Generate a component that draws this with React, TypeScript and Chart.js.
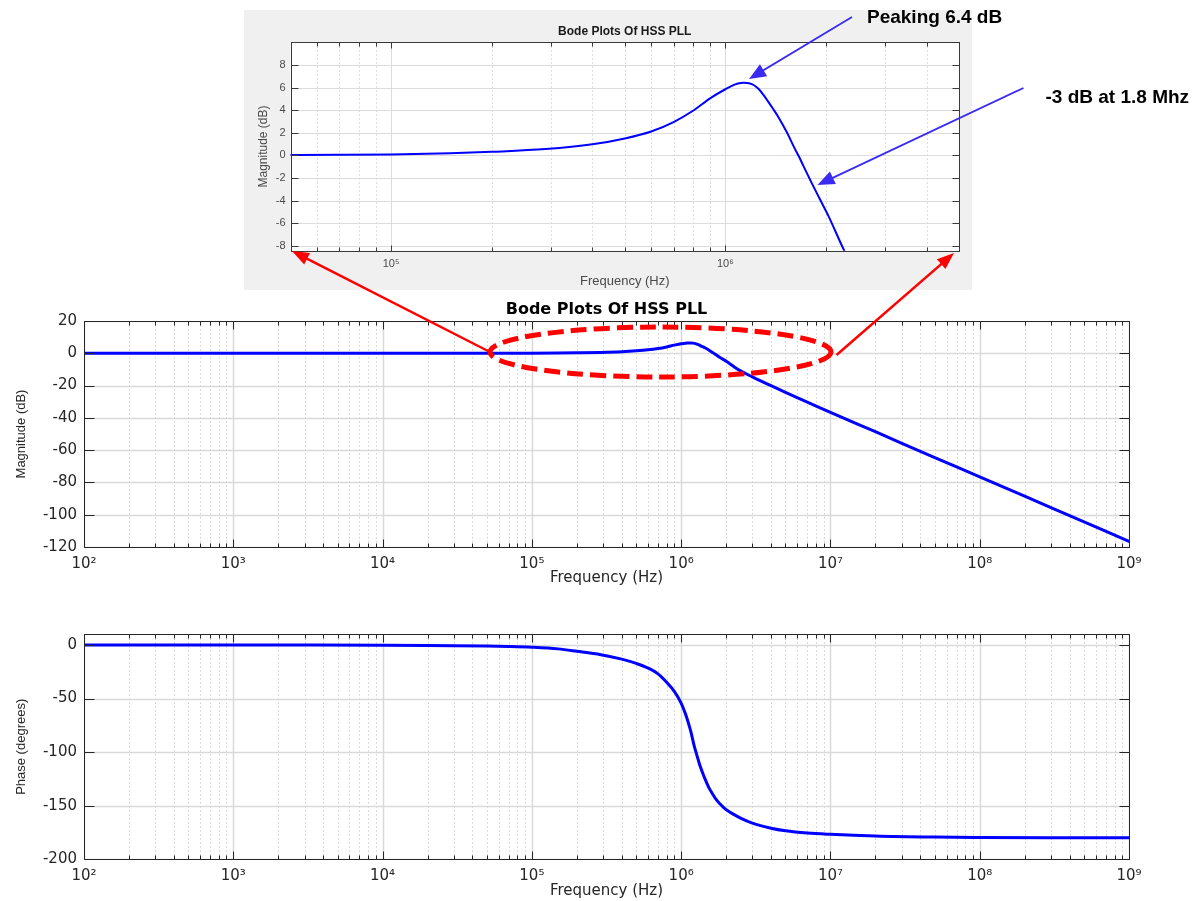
import React, { useEffect, useRef } from 'react';
import { Chart, registerables } from 'chart.js';

Chart.register(...registerables);

// ---------------- data ----------------
const FREQ_HZ = [
  1e2, 3e2, 1e3, 3e3, 1e4, 2e4, 3e4, 5e4, 7e4, 1e5,
  1.5e5, 2e5, 2.9e5, 4e5, 5e5, 6e5, 7e5, 8e5, 9e5, 1e6,
  1.07e6, 1.1e6, 1.13e6, 1.165e6, 1.2e6, 1.23e6, 1.26e6, 1.3e6, 1.34e6, 1.39e6,
  1.44e6, 1.53e6, 1.61e6, 1.66e6, 1.71e6, 1.81e6, 1.92e6, 2.03e6, 2.25e6, 2.5e6,
  3e6, 4e6, 5e6, 7e6, 1e7, 2e7, 5e7, 1e8, 3e8, 1e9,
];

const MAG_DB = [
  0.0, 0.0, 0.0, 0.0, 0.0, 0.01, 0.01, 0.03, 0.05, 0.09,
  0.19, 0.32, 0.56, 0.98, 1.5, 2.12, 2.95, 3.95, 5.05, 5.85,
  6.28, 6.38, 6.42, 6.4, 6.3, 6.12, 5.85, 5.35, 4.8, 4.1,
  3.4, 2.0, 0.65, -0.1, -0.9, -2.4, -3.9, -5.3, -8.2, -10.9,
  -14.6, -20.1, -24.2, -30.2, -36.6, -48.6, -64.6, -76.5, -95.6, -116.5,
];

const PHASE_DEG = [
  0.0, -0.01, -0.03, -0.08, -0.2, -0.4, -0.6, -1.0, -1.4, -2.1,
  -3.6, -5.8, -9.0, -13.2, -17.2, -21.5, -26.9, -34.8, -43.2, -54.2,
  -64.5, -69.5, -75.0, -81.5, -89.3, -95.5, -100.5, -107.0, -113.0, -119.0,
  -124.5, -132.8, -138.2, -141.1, -143.9, -148.0, -151.5, -154.3, -158.1, -161.6,
  -166.3, -171.0, -173.4, -175.5, -176.7, -178.3, -179.3, -179.65, -179.9, -180.0,
];

const MAIN_X_RANGE = [1e2, 1e9];
const INSET_X_RANGE = [5e4, 5e6];
const MAG_Y_RANGE = [-120, 20];
const PHASE_Y_RANGE = [-200, 10];
const INSET_Y_RANGE = [-8.42, 10];
const MAG_Y_TICKS = [-120, -100, -80, -60, -40, -20, 0, 20];
const PHASE_Y_TICKS = [-200, -150, -100, -50, 0];
const INSET_Y_TICKS = [-8, -6, -4, -2, 0, 2, 4, 6, 8];

const TITLE_TEXT = 'Bode Plots Of HSS PLL';
const X_LABEL = 'Frequency (Hz)';
const MAG_LABEL = 'Magnitude (dB)';
const PHASE_LABEL = 'Phase (degrees)';
const PEAK_NOTE = 'Peaking 6.4 dB';
const BW_NOTE = '-3 dB at 1.8 Mhz';

// ---------------- helpers ----------------
const SUP: Record<string, string> = {
  '0': '\u2070', '1': '\u00B9', '2': '\u00B2', '3': '\u00B3', '4': '\u2074',
  '5': '\u2075', '6': '\u2076', '7': '\u2077', '8': '\u2078', '9': '\u2079', '-': '\u207B',
};

function decadeLabel(v: number): string {
  const e = Math.round(Math.log10(v));
  if (Math.abs(v - Math.pow(10, e)) > 1e-6 * v) return '';
  return '10' + String(e).split('').map((c) => SUP[c]).join('');
}

function decades(min: number, max: number): number[] {
  const out: number[] = [];
  for (let e = Math.floor(Math.log10(min)); e <= Math.ceil(Math.log10(max)); e++) {
    const v = Math.pow(10, e);
    if (v >= min * 0.9999 && v <= max * 1.0001) out.push(v);
  }
  return out;
}

function logSteps(min: number, max: number): { v: number; major: boolean }[] {
  const out: { v: number; major: boolean }[] = [];
  for (let e = Math.floor(Math.log10(min)); e <= Math.ceil(Math.log10(max)); e++) {
    for (let d = 1; d <= 9; d++) {
      const v = d * Math.pow(10, e);
      if (v >= min * 0.9999 && v <= max * 1.0001) out.push({ v, major: d === 1 });
    }
  }
  return out;
}

const crisp = (p: number) => Math.round(p) + 0.5;

// MATLAB-like axes: white plot box, major/minor grid, inner ticks on all four sides
const matlabAxes = {
  id: 'matlabAxes',
  beforeDraw(chart: any, _args: any, o: any) {
    const { ctx, chartArea: a, width, height } = chart;
    ctx.save();
    if (o.background) {
      ctx.fillStyle = o.background;
      ctx.fillRect(0, 0, width, height);
    }
    ctx.fillStyle = '#ffffff';
    ctx.fillRect(a.left, a.top, a.right - a.left, a.bottom - a.top);
    ctx.restore();
  },
  beforeDatasetsDraw(chart: any, _args: any, o: any) {
    const { ctx, chartArea: a, scales } = chart;
    const x = scales.x;
    const y = scales.y;
    ctx.save();
    ctx.beginPath();
    ctx.rect(a.left, a.top, a.right - a.left, a.bottom - a.top);
    ctx.clip();
    const steps = logSteps(x.min, x.max);
    ctx.strokeStyle = o.minorColor;
    ctx.lineWidth = 1;
    ctx.setLineDash(o.minorDash);
    steps.filter((s) => !s.major).forEach((s) => {
      const px = crisp(x.getPixelForValue(s.v));
      ctx.beginPath();
      ctx.moveTo(px, a.top);
      ctx.lineTo(px, a.bottom);
      ctx.stroke();
    });
    ctx.setLineDash([]);
    ctx.strokeStyle = o.majorColor;
    ctx.lineWidth = o.majorWidth;
    steps.filter((s) => s.major).forEach((s) => {
      const px = crisp(x.getPixelForValue(s.v));
      ctx.beginPath();
      ctx.moveTo(px, a.top);
      ctx.lineTo(px, a.bottom);
      ctx.stroke();
    });
    y.ticks.forEach((t: any) => {
      const py = crisp(y.getPixelForValue(t.value));
      ctx.beginPath();
      ctx.moveTo(a.left, py);
      ctx.lineTo(a.right, py);
      ctx.stroke();
    });
    ctx.restore();
  },
  afterDatasetsDraw(chart: any, _args: any, o: any) {
    const { ctx, chartArea: a, scales } = chart;
    const x = scales.x;
    const y = scales.y;
    const L = crisp(a.left);
    const R = crisp(a.right);
    const T = crisp(a.top);
    const B = crisp(a.bottom);
    ctx.save();
    ctx.strokeStyle = o.boxColor;
    ctx.lineWidth = 1;
    ctx.beginPath();
    logSteps(x.min, x.max).forEach((s) => {
      const px = crisp(x.getPixelForValue(s.v));
      const len = s.major ? o.xMajorLen : o.xMinorLen;
      ctx.moveTo(px, B);
      ctx.lineTo(px, B - len);
      ctx.moveTo(px, T);
      ctx.lineTo(px, T + len);
    });
    y.ticks.forEach((t: any) => {
      const py = crisp(y.getPixelForValue(t.value));
      ctx.moveTo(L, py);
      ctx.lineTo(L + o.yLen, py);
      ctx.moveTo(R, py);
      ctx.lineTo(R - o.yLen, py);
    });
    ctx.stroke();
    ctx.strokeRect(L, T, R - L, B - T);
    ctx.restore();
  },
};

type PanelSpec = {
  canvas: HTMLCanvasElement;
  yValues: number[];
  xRange: number[];
  yRange: number[];
  yTicks: number[];
  yLabel: string;
  lineWidth: number;
  title: any;
  padding: any;
  xHeight: number;
  yWidth: number;
  tickFont: any;
  tickColor: string;
  xTickPad: number;
  yTickPad: number;
  xTitleFont: any;
  xTitlePadBottom: number;
  yTitleFont: any;
  yTitlePadTop: number;
  axes: any;
};

function makePanel(p: PanelSpec): Chart {
  return new Chart(p.canvas, {
    type: 'line',
    data: {
      datasets: [
        {
          data: FREQ_HZ.map((f, i) => ({ x: f, y: p.yValues[i] })),
          borderColor: '#0000ff',
          borderWidth: p.lineWidth,
          pointRadius: 0,
          fill: false,
          cubicInterpolationMode: 'monotone',
          borderCapStyle: 'round',
          borderJoinStyle: 'round',
        } as any,
      ],
    },
    options: {
      responsive: false,
      animation: false,
      events: [],
      layout: { padding: p.padding },
      plugins: {
        legend: { display: false },
        tooltip: { enabled: false },
        title: p.title,
        matlabAxes: p.axes,
      } as any,
      scales: {
        x: {
          type: 'logarithmic',
          min: p.xRange[0],
          max: p.xRange[1],
          afterBuildTicks: (s: any) => {
            s.ticks = decades(p.xRange[0], p.xRange[1]).map((v) => ({ value: v }));
          },
          afterFit: (s: any) => {
            s.height = p.xHeight;
          },
          grid: { display: false, drawTicks: false },
          border: { display: false },
          ticks: {
            autoSkip: false,
            maxRotation: 0,
            minRotation: 0,
            padding: p.xTickPad,
            color: p.tickColor,
            font: p.tickFont,
            callback: (v: any) => decadeLabel(Number(v)),
          },
          title: {
            display: true,
            text: X_LABEL,
            color: p.tickColor,
            font: p.xTitleFont,
            padding: { top: 0, bottom: p.xTitlePadBottom },
          },
        } as any,
        y: {
          type: 'linear',
          min: p.yRange[0],
          max: p.yRange[1],
          afterBuildTicks: (s: any) => {
            s.ticks = p.yTicks.map((v) => ({ value: v }));
          },
          afterFit: (s: any) => {
            s.width = p.yWidth;
          },
          grid: { display: false, drawTicks: false },
          border: { display: false },
          ticks: {
            padding: p.yTickPad,
            color: p.tickColor,
            font: p.tickFont,
            callback: (v: any) => String(v),
          },
          title: {
            display: true,
            text: p.yLabel,
            color: p.tickColor,
            font: p.yTitleFont,
            padding: { top: p.yTitlePadTop, bottom: 0 },
          },
        } as any,
      },
    },
    plugins: [matlabAxes as any],
  });
}

// ---------------- annotation arrows ----------------
function Arrow(props: {
  x1: number; y1: number; x2: number; y2: number;
  color: string; width: number; headLen: number; headW: number;
}) {
  const { x1, y1, x2, y2, color, width, headLen, headW } = props;
  const dx = x2 - x1;
  const dy = y2 - y1;
  const len = Math.hypot(dx, dy);
  const ux = dx / len;
  const uy = dy / len;
  const bx = x2 - ux * headLen;
  const by = y2 - uy * headLen;
  const nx = -uy;
  const ny = ux;
  const pts = [
    [x2, y2],
    [bx + (nx * headW) / 2, by + (ny * headW) / 2],
    [bx - (nx * headW) / 2, by - (ny * headW) / 2],
  ]
    .map((q) => q.join(','))
    .join(' ');
  return (
    <g>
      <line x1={x1} y1={y1} x2={bx + ux * 2} y2={by + uy * 2} stroke={color} strokeWidth={width} />
      <polygon points={pts} fill={color} />
    </g>
  );
}

export default function App() {
  const insetRef = useRef<HTMLCanvasElement | null>(null);
  const magRef = useRef<HTMLCanvasElement | null>(null);
  const phaseRef = useRef<HTMLCanvasElement | null>(null);

  useEffect(() => {
    document.body.style.margin = '0';
    const mainTick = { family: "'DejaVu Sans', sans-serif", size: 15 };
    const mainXTitle = { family: "'DejaVu Sans', sans-serif", size: 15 };
    const mainYTitle = { family: "'Liberation Sans', Arial, sans-serif", size: 13 };
    const mainAxes = {
      minorColor: '#cfcfcf',
      minorDash: [1.5, 2.5],
      majorColor: '#d9d9d9',
      majorWidth: 1.5,
      boxColor: '#262626',
      xMajorLen: 8,
      xMinorLen: 4,
      yLen: 10,
    };

    const charts: Chart[] = [];

    charts.push(
      makePanel({
        canvas: magRef.current as HTMLCanvasElement,
        yValues: MAG_DB,
        xRange: MAIN_X_RANGE,
        yRange: MAG_Y_RANGE,
        yTicks: MAG_Y_TICKS,
        yLabel: MAG_LABEL,
        lineWidth: 3,
        title: {
          display: true,
          text: TITLE_TEXT,
          fullSize: false,
          color: '#000000',
          font: { family: "'DejaVu Sans', sans-serif", size: 16, weight: 'bold' },
          padding: { top: 5.4, bottom: 1.4 },
        },
        padding: { left: 0, right: 72, top: 0, bottom: 0 },
        xHeight: 48,
        yWidth: 84,
        tickFont: mainTick,
        tickColor: '#262626',
        xTickPad: 8,
        yTickPad: 7,
        xTitleFont: mainXTitle,
        xTitlePadBottom: 7.5,
        yTitleFont: mainYTitle,
        yTitlePadTop: 13.2,
        axes: mainAxes,
      })
    );

    charts.push(
      makePanel({
        canvas: phaseRef.current as HTMLCanvasElement,
        yValues: PHASE_DEG,
        xRange: MAIN_X_RANGE,
        yRange: PHASE_Y_RANGE,
        yTicks: PHASE_Y_TICKS,
        yLabel: PHASE_LABEL,
        lineWidth: 3,
        title: { display: false },
        padding: { left: 0, right: 72, top: 24.3, bottom: 0 },
        xHeight: 41.7,
        yWidth: 84,
        tickFont: mainTick,
        tickColor: '#262626',
        xTickPad: 8,
        yTickPad: 7,
        xTitleFont: mainXTitle,
        xTitlePadBottom: 1,
        yTitleFont: mainYTitle,
        yTitlePadTop: 13.2,
        axes: mainAxes,
      })
    );

    charts.push(
      makePanel({
        canvas: insetRef.current as HTMLCanvasElement,
        yValues: MAG_DB,
        xRange: INSET_X_RANGE,
        yRange: INSET_Y_RANGE,
        yTicks: INSET_Y_TICKS,
        yLabel: MAG_LABEL,
        lineWidth: 2,
        title: {
          display: true,
          text: TITLE_TEXT,
          fullSize: false,
          color: '#1a1a1a',
          font: { family: "'Liberation Sans', Arial, sans-serif", size: 12, weight: 'bold' },
          padding: { top: 14.8, bottom: 3.1 },
        },
        padding: { left: 0, right: 13, top: 0, bottom: 0 },
        xHeight: 39.3,
        yWidth: 46.5,
        tickFont: { family: "'Liberation Sans', Arial, sans-serif", size: 11 },
        tickColor: '#4a4a4a',
        xTickPad: 6.7,
        yTickPad: 5,
        xTitleFont: { family: "'Liberation Sans', Arial, sans-serif", size: 13 },
        xTitlePadBottom: 1.2,
        yTitleFont: { family: "'Liberation Sans', Arial, sans-serif", size: 12 },
        yTitlePadTop: 12.8,
        axes: {
          background: '#f0f0f0',
          minorColor: '#d2d2d2',
          minorDash: [1.5, 2.5],
          majorColor: '#dcdcdc',
          majorWidth: 1,
          boxColor: '#3a3a3a',
          xMajorLen: 6,
          xMinorLen: 4,
          yLen: 7,
        },
      })
    );

    return () => {
      charts.forEach((c) => c.destroy());
    };
  }, []);

  const abs = (left: number, top: number): React.CSSProperties => ({
    position: 'absolute',
    left,
    top,
    display: 'block',
  });

  return (
    <div style={{ position: 'relative', width: 1201, height: 901, overflow: 'hidden', background: '#ffffff' }}>
      <canvas ref={insetRef} width={728} height={280} style={abs(244, 10)} />
      <canvas ref={magRef} width={1201} height={300} style={abs(0, 295)} />
      <canvas ref={phaseRef} width={1201} height={291} style={abs(0, 610)} />
      <svg
        width={1201}
        height={901}
        style={{ position: 'absolute', left: 0, top: 0, pointerEvents: 'none' }}
      >
        <ellipse
          cx={660.5}
          cy={352}
          rx={170.5}
          ry={25}
          fill="none"
          stroke="#ff0000"
          strokeWidth={5}
          strokeDasharray="16 7"
        />
        <Arrow x1={490} y1={352} x2={292} y2={251} color="#ff0000" width={2.5} headLen={17} headW={13} />
        <Arrow x1={836.5} y1={355} x2={954} y2={253} color="#ff0000" width={2.5} headLen={17} headW={13} />
        <Arrow x1={852} y1={17} x2={749} y2={79} color="#3a2bf0" width={1.8} headLen={17} headW={14} />
        <Arrow x1={1023.5} y1={88} x2={817.5} y2={185} color="#3a2bf0" width={1.8} headLen={17} headW={14} />
        <text
          x={867}
          y={23.3}
          fontFamily="'Liberation Sans', Arial, sans-serif"
          fontWeight="bold"
          fontSize={19}
          fill="#000000"
        >
          {PEAK_NOTE}
        </text>
        <text
          x={1045.5}
          y={103}
          fontFamily="'Liberation Sans', Arial, sans-serif"
          fontWeight="bold"
          fontSize={19}
          fill="#000000"
        >
          {BW_NOTE}
        </text>
      </svg>
    </div>
  );
}
